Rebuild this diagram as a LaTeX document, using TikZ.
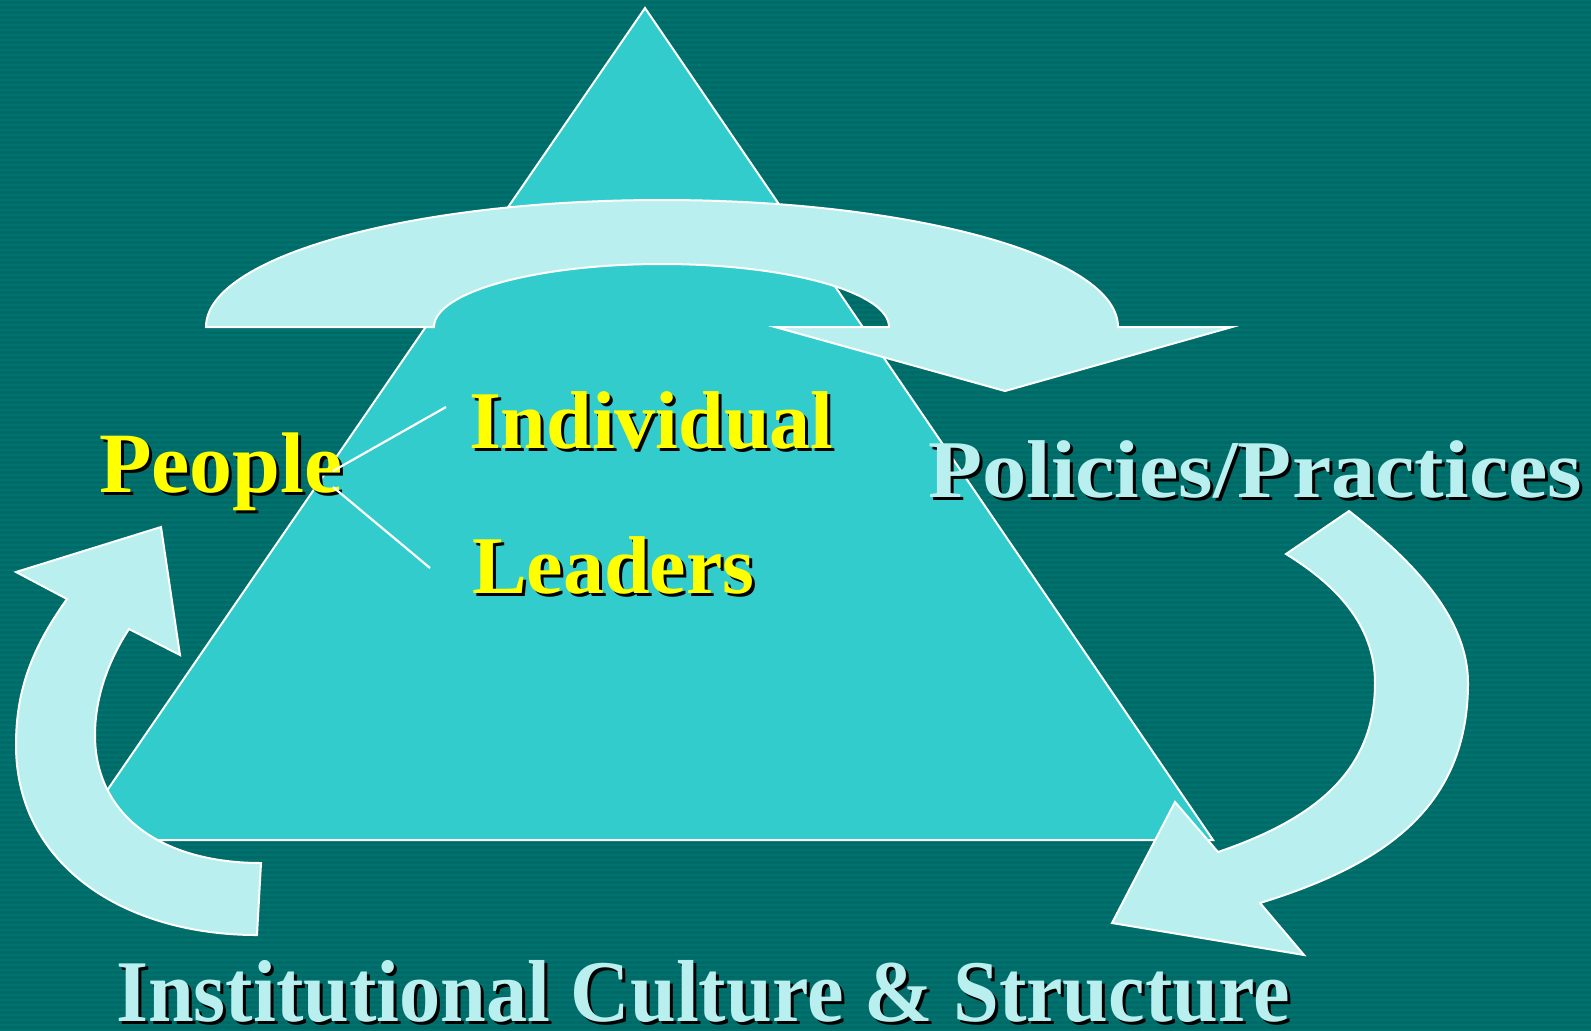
\documentclass[tikz,border=0pt]{standalone}
\usepackage{graphicx}
\usepackage{fontspec}
\setmainfont{Liberation Serif}
\definecolor{bgc}{HTML}{006A67}
\definecolor{stripec}{HTML}{00726F}
\definecolor{tric}{HTML}{33CCCC}
\definecolor{arrowc}{HTML}{B9EFEF}
\definecolor{yel}{HTML}{FFFF00}
\tikzset{
  arrowshape/.style={fill=arrowc, draw=white, line width=1pt, line join=miter},
  lbl/.style={inner sep=0pt, outer sep=0pt, anchor=base west},
  shadowlbl/.style={lbl, text=black},
  connline/.style={draw=white, line width=1.1pt}
}
\begin{document}
\begin{tikzpicture}[x=0.5pt,y=-0.5pt]
% background
\fill[bgc] (0,0) rectangle (1591,1030);
\useasboundingbox (0,0) rectangle (1591,1030);
\foreach \k in {0,5,...,1030} {
  \draw[stripec, line width=1.1pt] (0,\k) -- (1591,\k);
}
% triangle
\coordinate (apex) at (645,8);
\coordinate (bl) at (73,840);
\coordinate (br) at (1213,840);
\filldraw[fill=tric, draw=white, line width=1pt] (apex) -- (br) -- (bl) -- cycle;
% top curved arrow
\filldraw[arrowshape] (206,327) .. controls (206,256.9) and (410.2,200) .. (662,200)
  .. controls (913.8,200) and (1118,256.9) .. (1118,327)
  -- (1232,327) -- (1005,391) -- (775,327) -- (889,327)
  .. controls (889,292.2) and (787.1,264) .. (661.5,264)
  .. controls (535.9,264) and (434,292.2) .. (434,327) -- cycle;
% left curved arrow
\filldraw[arrowshape] (67,599)
  .. controls (32,648) and (16,690) .. (16,745)
  .. controls (16,865) and (124,935) .. (257,935)
  -- (261,863)
  .. controls (161,863) and (95,815) .. (95,735)
  .. controls (95,695) and (110,658) .. (129,629)
  -- (180,655) -- (161,527) -- (16,572) -- cycle;
% right curved arrow
\filldraw[arrowshape] (1349,511)
  .. controls (1404,554) and (1468,613) .. (1468,683)
  .. controls (1468,810) and (1380,866) .. (1260,903)
  -- (1304,955) -- (1112,923) -- (1175,802) -- (1218,852)
  .. controls (1312,820) and (1375,773) .. (1375,683)
  .. controls (1375,623) and (1333,583) .. (1286,554)
  -- cycle;
% texts
\node[shadowlbl] at (102,495) {\fontsize{43}{43}\selectfont\bfseries People};
\node[lbl, text=yel] (people) at (99,492) {\fontsize{43}{43}\selectfont\bfseries People};
\node[shadowlbl] at (472,451) {\fontsize{41}{41}\selectfont\bfseries Individual};
\node[lbl, text=yel] (indiv) at (469,448) {\fontsize{41}{41}\selectfont\bfseries Individual};
\node[shadowlbl] at (475,596) {\fontsize{41}{41}\selectfont\bfseries Leaders};
\node[lbl, text=yel] (lead) at (472,593) {\fontsize{41}{41}\selectfont\bfseries Leaders};
\node[shadowlbl] at (931,500) {\scalebox{1.08}[1]{\fontsize{41}{41}\selectfont\bfseries Policies/Practices}};
\node[lbl, text=arrowc] (pol) at (928,497) {\scalebox{1.08}[1]{\fontsize{41}{41}\selectfont\bfseries Policies/Practices}};
\node[shadowlbl] at (119,1024) {\scalebox{0.935}[1]{\fontsize{44}{44}\selectfont\bfseries Institutional Culture \& Structure}};
\node[lbl, text=arrowc] (inst) at (116,1021) {\scalebox{0.935}[1]{\fontsize{44}{44}\selectfont\bfseries Institutional Culture \& Structure}};
% connector lines
\coordinate (pa) at (333,471);
\coordinate (pb) at (333,487);
\coordinate (ia) at (446,407);
\coordinate (la) at (430,568);
\draw[connline] (pa) -- (ia);
\draw[connline] (pb) -- (la);
\end{tikzpicture}
\end{document}
